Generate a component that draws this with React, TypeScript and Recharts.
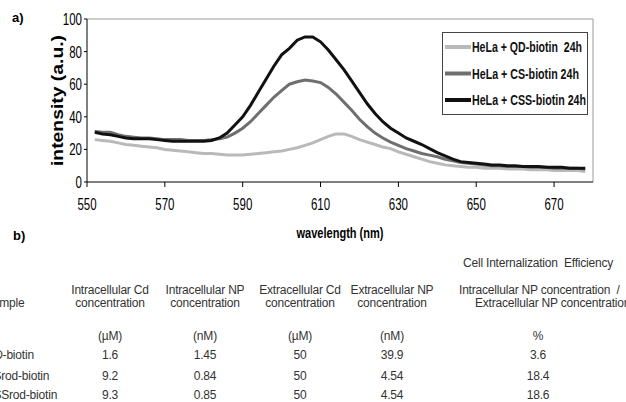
import { LineChart, Line, XAxis, YAxis, ReferenceLine, Legend } from "recharts";

// emission spectra (a.u.)
const wavelengths = [
  552, 554, 556, 558, 560, 562, 564, 566, 568, 570,
  572, 574, 576, 578, 580, 582, 584, 586, 588, 590,
  592, 594, 596, 598, 600, 602, 604, 606, 608, 610,
  612, 614, 616, 618, 620, 622, 624, 626, 628, 630,
  632, 634, 636, 638, 640, 642, 644, 646, 648, 650,
  652, 654, 656, 658, 660, 662, 664, 666, 668, 670,
  672, 674, 676, 678,
];

const qdBiotin = [
  26, 25.5, 25, 24, 23, 22.5, 22, 21.5, 21, 20,
  19.5, 19, 18.5, 18, 17.5, 17.5, 17, 16.5, 16.5, 16.5,
  17, 17.5, 18, 18.5, 19, 20, 21, 22.5, 24, 26,
  28, 29.5, 29.5, 28, 26, 24.5, 23, 21.5, 20.5, 18.5,
  17, 15.5, 14, 12.5, 11.5, 10.5, 10, 9.5, 9, 9,
  8.5, 8.5, 8.5, 8, 8, 8, 7.5, 7.5, 7.5, 7,
  7, 7, 7, 6.5,
];

const csBiotin = [
  31, 30.5, 30.5, 29, 28, 27.5, 27, 27, 26.5, 26,
  26, 26, 25.5, 25.5, 25.5, 26, 26.5, 27.5, 30, 33,
  37, 42, 47, 52, 56, 60, 61.5, 62.5, 62, 61,
  58, 54, 49, 44, 38.5, 34, 30, 27, 24.5, 22.5,
  20.5, 19, 17.5, 16.5, 15.5, 14, 13, 12, 11.5, 11,
  10.5, 10, 10, 9.5, 9.5, 9.5, 9, 9, 9, 8.5,
  8.5, 8.5, 8.5, 8,
];

const cssBiotin = [
  30.5, 29.5, 29, 28, 27, 26.5, 26.5, 26.5, 26, 25.5,
  25, 25, 25, 25, 25, 25.5, 27, 30, 35, 40,
  47, 55, 63, 71, 78, 82, 87, 89, 89, 86,
  81, 75, 69, 62, 55, 48, 42, 37, 33, 30,
  27, 25, 23, 20.5, 18, 16, 14, 12.5, 12, 11.5,
  11, 10.5, 10.5, 10, 10, 9.5, 9.5, 9.5, 9, 9,
  9, 8.5, 8.5, 8.5,
];

const seriesNames = ["HeLa + QD-biotin  24h", "HeLa + CS-biotin 24h", "HeLa + CSS-biotin 24h"];
const xTicks = [550, 570, 590, 610, 630, 650, 670];
const yTicks = [0, 20, 40, 60, 80, 100];

// table b)
const sampleNames = ["QD-biotin", "CSrod-biotin", "CSSrod-biotin"];
const intraCd = ["1.6", "9.2", "9.3"];
const intraNP = ["1.45", "0.84", "0.85"];
const extraCd = ["50", "50", "50"];
const extraNP = ["39.9", "4.54", "4.54"];
const efficiency = ["3.6", "18.4", "18.6"];

const colors = ["#b9b9b9", "#6f6f6f", "#111111"];
const sans = "'Liberation Sans', Arial, sans-serif";

const chartData = wavelengths.map((nm, i) => ({
  nm,
  qd: qdBiotin[i],
  cs: csBiotin[i],
  css: cssBiotin[i],
}));

// the original uses a very condensed face, squeeze glyphs with textLength
const DIGIT_W = 6.4;

function XTick({ x, y, payload }: any) {
  const s = String(payload.value);
  return (
    <text x={x} y={y + 13} textAnchor="middle" fontFamily={sans} fontSize={17} fill="#000"
      textLength={s.length * DIGIT_W} lengthAdjust="spacingAndGlyphs">
      {s}
    </text>
  );
}

function YTick({ x, y, payload }: any) {
  const s = String(payload.value);
  return (
    <text x={x} y={y + 6} textAnchor="end" fontFamily={sans} fontSize={17} fill="#000"
      textLength={s.length * DIGIT_W} lengthAdjust="spacingAndGlyphs">
      {s}
    </text>
  );
}

function YLabel({ viewBox }: any) {
  const cy = viewBox ? viewBox.y + viewBox.height / 2 : 100;
  const cx = 57;
  return (
    <text x={cx} y={cy} transform={`rotate(-90, ${cx}, ${cy})`} textAnchor="middle" dy={6}
      fontFamily={sans} fontWeight="bold" fontSize={17} fill="#000"
      textLength={131} lengthAdjust="spacingAndGlyphs">
      intensity (a.u.)
    </text>
  );
}

function XLabel({ viewBox }: any) {
  const cx = viewBox ? viewBox.x + viewBox.width / 2 : 340;
  return (
    <text x={cx} y={238} textAnchor="middle" fontFamily={sans} fontWeight="bold" fontSize={14} fill="#000"
      textLength={87} lengthAdjust="spacingAndGlyphs">
      wavelength (nm)
    </text>
  );
}

const legendWidths = [110, 107, 114];

function LegendBox() {
  return (
    <div style={{ width: 146, height: 83, boxSizing: "border-box", border: "1px solid #444", background: "#fff", overflow: "visible" }}>
      <svg width={144} height={81} overflow="visible" style={{ display: "block", overflow: "visible" }}>
        {seriesNames.map((name, i) => {
          const cy = 14 + i * 26.5;
          return (
            <g key={name}>
              <line x1={2} x2={28} y1={cy} y2={cy} stroke={colors[i]} strokeWidth={4} />
              <text x={29} y={cy + 5} fontFamily={sans} fontWeight="bold" fontSize={14} fill="#111"
                style={{ whiteSpace: "pre" }} textLength={legendWidths[i]} lengthAdjust="spacingAndGlyphs">
                {name}
              </text>
            </g>
          );
        })}
      </svg>
    </div>
  );
}

function Cell({ x, y, children, center = true }: { x: number; y: number; children: any; center?: boolean }) {
  return (
    <div
      style={{
        position: "absolute",
        left: x,
        top: y - 7,
        lineHeight: "14px",
        transform: center ? "translateX(-50%)" : undefined,
        whiteSpace: "pre",
      }}
    >
      {children}
    </div>
  );
}

const colX = [110, 205, 300, 392, 538];
const rowY = [355, 376, 395];

export default function App() {
  return (
    <div
      style={{
        position: "absolute",
        left: 0,
        top: 0,
        width: 626,
        height: 402,
        overflow: "hidden",
        background: "#fff",
      }}
    >
      <div style={{ position: "absolute", left: 12, top: 10, fontFamily: sans, fontWeight: "bold", fontSize: 13 }}>a)</div>
      <div style={{ position: "absolute", left: 13, top: 228, fontFamily: sans, fontWeight: "bold", fontSize: 13 }}>b)</div>

      <div style={{ position: "absolute", left: 0, top: 0 }}>
        <LineChart width={626} height={250} data={chartData} margin={{ top: 19, right: 33, bottom: 12, left: 0 }}>
          <XAxis
            dataKey="nm"
            type="number"
            domain={[550, 680]}
            ticks={xTicks}
            allowDataOverflow
            height={56}
            axisLine={{ stroke: "#000" }}
            tickLine={{ stroke: "#000" }}
            tickSize={5}
            tickMargin={10}
            tick={<XTick />}
            label={{ position: "insideBottom", content: (p: any) => <XLabel {...p} /> }}
          />
          <YAxis
            type="number"
            domain={[0, 100]}
            ticks={yTicks}
            width={87}
            axisLine={{ stroke: "#000" }}
            tickLine={{ stroke: "#000" }}
            tickSize={3}
            tickMargin={2}
            tick={<YTick />}
            label={{ position: "insideLeft", content: (p: any) => <YLabel {...p} /> }}
          />
          <ReferenceLine y={100} stroke="#9a9a9a" />
          <ReferenceLine x={680} stroke="#9a9a9a" />
          <Legend
            layout="vertical"
            align="center"
            verticalAlign="middle"
            content={() => <LegendBox />}
            wrapperStyle={{ position: "absolute", left: 442, top: 32, width: 146, height: 83, overflow: "visible" }}
          />
          <Line type="linear" dataKey="qd" name={seriesNames[0]} stroke={colors[0]} strokeWidth={3} dot={false} isAnimationActive={false} />
          <Line type="linear" dataKey="cs" name={seriesNames[1]} stroke={colors[1]} strokeWidth={3} dot={false} isAnimationActive={false} />
          <Line type="linear" dataKey="css" name={seriesNames[2]} stroke={colors[2]} strokeWidth={3} dot={false} isAnimationActive={false} />
        </LineChart>
      </div>

      <div style={{ position: "absolute", left: 0, top: 0, fontFamily: sans, fontSize: 12, color: "#333", letterSpacing: -0.2 }}>
        <Cell x={463} y={263} center={false}>Cell Internalization  Efficiency</Cell>

        <Cell x={colX[0]} y={290}>Intracellular Cd</Cell>
        <Cell x={colX[1]} y={290}>Intracellular NP</Cell>
        <Cell x={colX[2]} y={290}>Extracellular Cd</Cell>
        <Cell x={colX[3]} y={290}>Extracellular NP</Cell>
        <Cell x={459} y={290} center={false}>Intracellular NP concentration  /</Cell>

        <Cell x={-15} y={303} center={false}>Sample</Cell>
        <Cell x={colX[0]} y={303}>concentration</Cell>
        <Cell x={colX[1]} y={303}>concentration</Cell>
        <Cell x={colX[2]} y={303}>concentration</Cell>
        <Cell x={colX[3]} y={303}>concentration</Cell>
        <Cell x={475} y={303} center={false}>Extracellular NP concentration</Cell>

        <Cell x={colX[0]} y={336}>(µM)</Cell>
        <Cell x={colX[1]} y={336}>(nM)</Cell>
        <Cell x={colX[2]} y={336}>(µM)</Cell>
        <Cell x={colX[3]} y={336}>(nM)</Cell>
        <Cell x={colX[4]} y={336}>%</Cell>

        {sampleNames.map((s, i) => (
          <div key={s}>
            <Cell x={-15} y={rowY[i]} center={false}>{s}</Cell>
            <Cell x={colX[0]} y={rowY[i]}>{intraCd[i]}</Cell>
            <Cell x={colX[1]} y={rowY[i]}>{intraNP[i]}</Cell>
            <Cell x={colX[2]} y={rowY[i]}>{extraCd[i]}</Cell>
            <Cell x={colX[3]} y={rowY[i]}>{extraNP[i]}</Cell>
            <Cell x={colX[4]} y={rowY[i]}>{efficiency[i]}</Cell>
          </div>
        ))}
      </div>
    </div>
  );
}
